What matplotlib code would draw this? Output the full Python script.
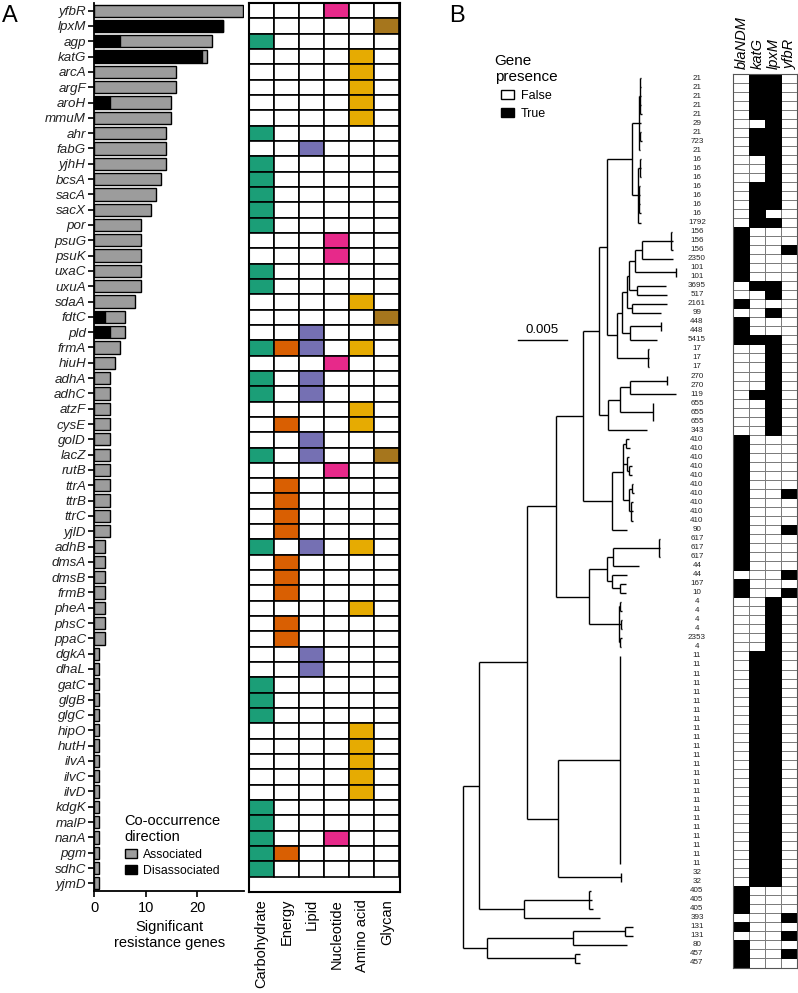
import matplotlib
matplotlib.use('Agg')
import matplotlib.pyplot as plt
from matplotlib.patches import Rectangle, Patch

plt.rcParams['font.family'] = ['Liberation Sans', 'DejaVu Sans']

# ---------------- Panel A data ----------------
genes = ['yfbR', 'lpxM', 'agp', 'katG', 'arcA', 'argF', 'aroH', 'mmuM', 'ahr', 'fabG',
         'yjhH', 'bcsA', 'sacA', 'sacX', 'por', 'psuG', 'psuK', 'uxaC', 'uxuA', 'sdaA',
         'fdtC', 'pld', 'frmA', 'hiuH', 'adhA', 'adhC', 'atzF', 'cysE', 'golD', 'lacZ',
         'rutB', 'ttrA', 'ttrB', 'ttrC', 'yjlD', 'adhB', 'dmsA', 'dmsB', 'frmB', 'pheA',
         'phsC', 'ppaC', 'dgkA', 'dhaL', 'gatC', 'glgB', 'glgC', 'hipO', 'hutH', 'ilvA',
         'ilvC', 'ilvD', 'kdgK', 'malP', 'nanA', 'pgm', 'sdhC', 'yjmD']
disassociated = [0, 25, 5, 21, 0, 0, 3, 0, 0, 0,
                 0, 0, 0, 0, 0, 0, 0, 0, 0, 0,
                 2, 3, 0, 0, 0, 0, 0, 0, 0, 0,
                 0, 0, 0, 0, 0, 0, 0, 0, 0, 0,
                 0, 0, 0, 0, 0, 0, 0, 0, 0, 0,
                 0, 0, 0, 0, 0, 0, 0, 0]
associated = [29, 0, 18, 1, 16, 16, 12, 15, 14, 14,
              14, 13, 12, 11, 9, 9, 9, 9, 9, 8,
              4, 3, 5, 4, 3, 3, 3, 3, 3, 3,
              3, 3, 3, 3, 3, 2, 2, 2, 2, 2,
              2, 2, 1, 1, 1, 1, 1, 1, 1, 1,
              1, 1, 1, 1, 1, 1, 1, 1]
# metabolic categories per gene: C=Carbohydrate E=Energy L=Lipid N=Nucleotide A=Amino acid G=Glycan
gene_cats = ['N', 'G', 'C', 'A', 'A', 'A', 'A', 'A', 'C', 'L',
             'C', 'C', 'C', 'C', 'C', 'N', 'N', 'C', 'C', 'A',
             'G', 'L', 'CELA', 'N', 'CL', 'CL', 'A', 'EA', 'L', 'CLG',
             'N', 'E', 'E', 'E', 'E', 'CLA', 'E', 'E', 'E', 'A',
             'E', 'E', 'L', 'L', 'C', 'C', 'C', 'A', 'A', 'A',
             'A', 'A', 'C', 'C', 'CN', 'CE', 'C']
categories = ['Carbohydrate', 'Energy', 'Lipid', 'Nucleotide', 'Amino acid', 'Glycan']
cat_codes = ['C', 'E', 'L', 'N', 'A', 'G']
cat_colors = ['#1b9e77', '#d95f02', '#7570b3', '#e7298a', '#e6ab02', '#a6761d']

# ---------------- Panel B data ----------------
tree_newick = """
((((((((((21:0.0001,21:0.0001,21:0.0001,21:0.0001,21:0.0002):0.0001,29:0.0002,
(21:0.0001,723:0.0002):0.0001,21:0.0001):0.00072,
((16:0.0001,16:0.0001,16:0.0001):0.0002,(16:0.0001,16:0.0001,16:0.0001,16:0.0002):0.0001,
1792:0.0003):0.00062):0.00259,
(((((((156:0.0001,156:0.0002,156:0.0002):0.003,2350:0.00321):0.00069,
(101:0.00005,101:0.00005):0.00424):0.00059,
(3695:0.00297,517:0.00304):0.00083):0.00027,
(2161:0.00356,99:0.00297):0.00058):0.00052,
((448:0.00003,448:0.00003):0.00318,5415:0.00282):0.00086):0.00052,
(17:0.00005,17:0.00005,17:0.00005):0.00327):0.00097):0.00086,
((((270:0.00005,270:0.00005):0.0038,119:0.00483):0.00103,
(655:0.00005,655:0.00005,655:0.00005):0.00338):0.00121,
343:0.00397):0.00096):0.00169,
(((410:0.0003,410:0.0004):0.0003,(410:0.0002,(410:0.0003,410:0.0003):0.0002):0.0004,
((410:0.0002,410:0.0003):0.0003,(410:0.0002,410:0.0002,410:0.0003):0.0002):0.0006):0.00117,
90:0.00155):0.003):0.00279,
((((617:0.00005,617:0.0001,617:0.0001):0.00479,44:0.00272):0.00065,
(44:0.00155,(167:0.00062,10:0.00062):0.00086):0.00052):0.0018,
((4:0.0001,4:0.0002):0.0001,(4:0.0001,4:0.0001):0.00015,(2353:0.0002,4:0.0001):0.0001):0.0031):0.00348):0.003,
((11:0.00005,11:0.00005,11:0.00005,11:0.00005,11:0.00005,11:0.00005,11:0.00005,11:0.00005,
11:0.00005,11:0.00005,11:0.00005,11:0.00005,11:0.00005,11:0.00005,11:0.00005,11:0.00005,
11:0.00005,11:0.00005,11:0.00005,11:0.00005,11:0.00005,11:0.00005,11:0.00005,11:0.00005):0.00644,
(32:0.00005,32:0.00005):0.00652):0.0032):0.00493,
((405:0.0002,405:0.0003,405:0.0004):0.00676,393:0.00786):0.00466):0.00166,
(((131:0.00083,131:0.00083):0.00535,80:0.00552):0.0089,
(457:0.00052,457:0.00052):0.00907):0.00251);
"""
presence_genes = ['blaNDM', 'katG', 'lpxM', 'yfbR']
blaNDM = [0,0,0,0,0,0,0,0,0,0, 0,0,0,0,0,0,0,1,1,1, 1,1,1,0,0,1,0,1,1,1,
          0,0,0,0,0,0,0,0,0,0, 1,1,1,1,1,1,1,1,1,1, 1,1,1,1,1,0,1,1,0,0,
          0,0,0,0,0,0,0,0,0,0, 0,0,0,0,0,0,0,0,0,0, 0,0,0,0,0,0,0,0,0,0,
          1,1,1,0,1,0,1,1,1]
katG = [1,1,1,1,1,0,1,1,1,0, 0,0,1,1,1,1,1,0,0,0, 0,0,0,1,0,0,0,0,0,1,
        0,0,0,0,0,1,0,0,0,0, 0,0,0,0,0,0,0,0,0,0, 0,0,0,0,0,0,0,0,0,0,
        0,0,0,0,1,1,1,1,1,1, 1,1,1,1,1,1,1,1,1,1, 1,1,1,1,1,1,1,1,1,1,
        0,0,0,0,0,0,0,0,0]
lpxM = [1,1,1,1,1,1,1,1,1,1, 1,1,1,1,1,0,1,0,0,0, 0,0,0,1,1,0,1,0,0,1,
        1,1,1,1,1,1,1,1,1,1, 0,0,0,0,0,0,0,0,0,0, 0,0,0,0,0,0,0,0,1,1,
        1,1,1,1,1,1,1,1,1,1, 1,1,1,1,1,1,1,1,1,1, 1,1,1,1,1,1,1,1,1,1,
        0,0,0,0,0,0,0,0,0]
yfbR = [0,0,0,0,0,0,0,0,0,0, 0,0,0,0,0,0,0,0,0,1, 0,0,0,0,0,0,0,0,0,0,
        0,0,0,0,0,0,0,0,0,0, 0,0,0,0,0,0,1,0,0,0, 1,0,0,0,0,1,0,1,0,0,
        0,0,0,0,0,0,0,0,0,0, 0,0,0,0,0,0,0,0,0,0, 0,0,0,0,0,0,0,0,0,0,
        0,0,0,1,0,1,0,1,0]


def parse_newick(s):
    s = ''.join(s.split())
    pos = 0

    def node():
        nonlocal pos
        children = []
        if s[pos] == '(':
            pos += 1
            children.append(node())
            while s[pos] == ',':
                pos += 1
                children.append(node())
            pos += 1
        start = pos
        while s[pos] not in ',();':
            pos += 1
        name, _, length = s[start:pos].partition(':')
        return {'name': name, 'len': float(length) if length else 0.0, 'children': children}
    return node()


W, H = 798, 993
fig = plt.figure(figsize=(W / 100, H / 100), dpi=100)


def px_axes(left, top, width, height):
    return fig.add_axes([left / W, 1 - (top + height) / H, width / W, height / H])


# ---------------- Panel A: bars ----------------
axb = px_axes(94.3, 3, 150, 888)
rows = list(range(len(genes)))
axb.barh(rows, disassociated, height=0.8, color='black', edgecolor='black', linewidth=1.0)
axb.barh(rows, associated, left=disassociated, height=0.8, color='#9c9c9c',
         edgecolor='black', linewidth=1.0)
axb.set_ylim(len(genes) - 0.5, -0.5)
axb.set_xlim(0, 29.2)
axb.set_yticks(rows)
axb.set_yticklabels(genes, fontsize=9.6, style='italic', color='#222222')
axb.set_xticks([0, 10, 20])
axb.tick_params(axis='x', labelsize=10.5, length=4, width=1.2, pad=3)
axb.tick_params(axis='y', length=4, width=1.2, pad=2)
for sp in ['top', 'right']:
    axb.spines[sp].set_visible(False)
for sp in ['left', 'bottom']:
    axb.spines[sp].set_linewidth(1.3)
axb.set_xlabel('Significant\nresistance genes', fontsize=10.5, labelpad=4, linespacing=1.2)

leg_a = fig.legend(handles=[Patch(facecolor='#9c9c9c', edgecolor='black', label='Associated'),
                            Patch(facecolor='black', edgecolor='black', label='Disassociated')],
                   title='Co-occurrence\ndirection', loc='upper center',
                   bbox_to_anchor=(172 / W, 1 - 808 / H), frameon=False, fontsize=8.8,
                   title_fontsize=10.5, handlelength=1.0, handleheight=0.8,
                   handletextpad=0.5, labelspacing=0.35, borderpad=0)

# ---------------- Panel A: category heatmap ----------------
axh = px_axes(249, 3, 150.5, 889)
for i, cats in enumerate(gene_cats):
    for j, code in enumerate(cat_codes):
        fc = cat_colors[j] if code in cats else 'white'
        axh.add_patch(Rectangle((j, i), 1, 1, facecolor=fc, edgecolor='black', linewidth=1.2))
axh.set_xlim(0, len(categories))
axh.set_ylim(len(genes), 0)
axh.set_yticks([])
axh.set_xticks([j + 0.5 for j in range(len(categories))])
axh.set_xticklabels(categories, rotation=90, fontsize=10.5)
axh.tick_params(axis='x', length=0, pad=5)
for sp in axh.spines.values():
    sp.set_linewidth(1.5)

fig.text(2 / W, 1 - 16 / H, 'A', fontsize=17, va='center', ha='left')
fig.text(449 / W, 1 - 16 / H, 'B', fontsize=17, va='center', ha='left')

# ---------------- Panel B: tree ----------------
tree = parse_newick(tree_newick)
tips = []


def layout(nd, x):
    nd['x'] = x + nd['len']
    if not nd['children']:
        nd['y'] = len(tips)
        tips.append(nd)
    else:
        for c in nd['children']:
            layout(c, nd['x'])
        nd['y'] = (nd['children'][0]['y'] + nd['children'][-1]['y']) / 2


layout(tree, 0.0)
n_tips = len(tips)

px_per_unit = 48.3 / 0.005
axt = px_axes(455, 73.5, 278, 894)
axt.set_xlim(-8 / px_per_unit, 270 / px_per_unit)
axt.set_ylim(n_tips - 0.5, -0.5)
axt.axis('off')


def draw(nd, parent_x):
    axt.plot([parent_x, nd['x']], [nd['y'], nd['y']], color='black', lw=1.0,
             solid_capstyle='butt')
    if nd['children']:
        axt.plot([nd['x'], nd['x']], [nd['children'][0]['y'], nd['children'][-1]['y']],
                 color='black', lw=1.0, solid_capstyle='butt')
        for c in nd['children']:
            draw(c, nd['x'])


draw(tree, tree['x'])

label_x = 234 / px_per_unit
for t in tips:
    axt.text(label_x, t['y'], t['name'], ha='center', va='center', fontsize=5.8,
             color='#222222', clip_on=False)

# scale bar
sb_x0 = 55.3 / px_per_unit
sb_y = 29.0
axt.plot([sb_x0, sb_x0 + 0.005], [sb_y, sb_y], color='black', lw=1.0)
axt.text(sb_x0 + 0.0025, sb_y - 0.45, '0.005', ha='center', va='bottom', fontsize=9.5)

leg_b = fig.legend(handles=[Patch(facecolor='white', edgecolor='black', label='False'),
                            Patch(facecolor='black', edgecolor='black', label='True')],
                   title='Gene\npresence', loc='upper center',
                   bbox_to_anchor=(526 / W, 1 - 48 / H), frameon=False, fontsize=9,
                   title_fontsize=11, handlelength=1.1, handleheight=0.75,
                   handletextpad=0.5, labelspacing=0.45, borderpad=0)

# ---------------- Panel B: presence heatmap ----------------
axp = px_axes(733.3, 73.5, 64.2, 894)
presence = [blaNDM, katG, lpxM, yfbR]
for j, col in enumerate(presence):
    for i, v in enumerate(col):
        if not v:
            axp.add_patch(Rectangle((j, i), 1, 1, facecolor='white', edgecolor='#7a7a7a',
                                    linewidth=0.7))
for j, col in enumerate(presence):
    for i, v in enumerate(col):
        if v:
            axp.add_patch(Rectangle((j, i), 1, 1, facecolor='black', edgecolor='black',
                                    linewidth=0.7))
axp.set_xlim(0, len(presence_genes))
axp.set_ylim(n_tips, 0)
axp.set_yticks([])
axp.set_xticks([j + 0.5 for j in range(len(presence_genes))])
axp.set_xticklabels(presence_genes, rotation=90, fontsize=10.5, style='italic')
axp.xaxis.tick_top()
axp.tick_params(axis='x', length=0, pad=3)
for sp in axp.spines.values():
    sp.set_linewidth(0.8)
    sp.set_color('#555555')

fig.savefig('out.png', dpi=100)
